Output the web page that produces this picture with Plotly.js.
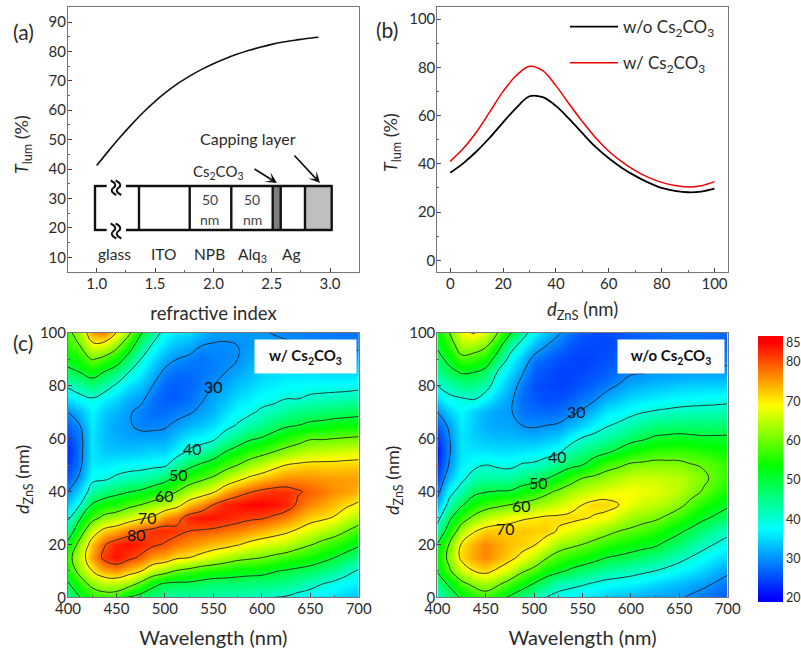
<!DOCTYPE html>
<html>
<head>
<meta charset="utf-8">
<script src="https://cdn.plot.ly/plotly-3.0.1.min.js"></script>
<style>html,body{margin:0;padding:0;background:#fff}</style>
</head>
<body>
<div id="chart" style="width:801px;height:649px"></div>
<script>
// ---------- panel (a)
const refractiveIndex = [1.0,1.1,1.2,1.3,1.4,1.5,1.6,1.7,1.8,1.9,2.0,2.1,2.2,2.3,2.4,2.5,2.6,2.7,2.8,2.9];
const tLumA = [41.2,46.1,50.8,55.2,59.3,63.0,66.3,69.2,71.7,73.9,75.8,77.5,79,80.3,81.4,82.4,83.2,83.8,84.4,84.8];
// ---------- panel (b)
const dZnSb = [0,5,10,15,20,25,30,35,40,45,50,55,60,65,70,75,80,85,90,95,100];
const tLumWithout = [36.3,40.3,45.2,50.9,57.2,63.2,68,67.6,64,58.6,52.7,47,42.3,38.3,35,32.2,30,28.8,28.2,28.5,29.7];
const tLumWith = [41,46.4,53.3,61.6,70,76.6,80.4,78.6,72.4,64.8,57.5,50.8,45.2,40.8,37.2,34.4,32.3,31,30.4,30.9,32.6];
// ---------- contour maps: one array per wavelength, values for d = 0,5,...,100 nm
const wavelengths = [400,412.5,425,437.5,450,462.5,475,487.5,500,512.5,525,537.5,550,562.5,575,587.5,600,612.5,625,637.5,650,662.5,675,687.5,700];
const dZnS = [0,5,10,15,20,25,30,35,40,45,50,55,60,65,70,75,80,85,90,95,100];

const w400 = [44,49,55,57,52,45,39,34,30,26.5,24,23,24.5,27,30,35.5,41,48,53,56,58];
const w412 = [50,56.5,62.5,66,63,56,49.5,40,35,31,29,28.5,28.5,30,33,38,43.5,50,55,60,64];
const w425 = [55,62,70,75,73,66.5,57.5,50.5,43,38.5,36.5,36,36,36.5,37,39.5,46,53,60.5,68,75];
const w437 = [56.5,65,74.5,81.5,79.5,72,62,54,45.5,39,36,34,33,33,34,37,43,49.5,58,67,77];
const w450 = [56,65,76,84,83,74,64,55,48,41,37,33.5,32,31.5,32.5,35,39,46,54,62,70];
const w462 = [49.5,63,73,81.5,84,77.5,66.5,58,49.5,42.5,37.5,33.5,31.5,30.5,30.5,32,35.5,40,47,54,62];
const w475 = [47,58,70.5,79,83,80,69,60,51,43,38,34,31.5,29,29,31,33.5,36.5,40,45,51];
const w487 = [45,52,65.5,75,81,82,71,62.5,53.5,45,38.5,34.5,31.5,29,27.5,28,30,32.5,35.5,39,43.5];
const w500 = [43,49,63,74,79.5,82.5,76,65,56,47.5,39,34.5,31.5,29.5,27.5,26.5,27,29,32,35,38];
const w512 = [43,48.5,59.5,71,77.5,81.5,78,68,60,52,44,37.5,34,31,28.5,26.5,26.5,27.5,30,33,36];
const w525 = [43,48.5,58,70,76,80,82.5,73,64,56,48,41,36.5,32.5,29.5,27.5,27,27.5,29,32,35];
const w537 = [43,47.5,56,68,74.5,79.5,84,76,66.5,58.5,51,43,37.5,33.5,31,29.5,28.5,28,28,30,33];
const w550 = [43,46.5,55,66,73,79,84,80,69,61,53.5,45.5,39,35,32.5,31.5,30,29,28.8,29.7,31];
const w562 = [42.5,46.5,54,64,72,78,83,83,74,65,57,50,43,38,35,33,31.5,30,29.3,29.5,31];
const w575 = [42,46.5,53,62,70.5,77,82,84,77.5,68,60,53,46,40.5,37.5,35.5,33.5,31.5,30,30,31];
const w587 = [41.5,46,52.5,61,68.5,75.5,81,85,79.5,71,63,56,49,43,39,36.5,34.5,33,31.5,30.5,30.5];
const w600 = [41,46,52,60,67,74,80.5,85,81,73,65,58,50.5,45,41,38,36,34.5,33,31.5,30.5];
const w612 = [40,45.5,50.5,58.5,66,72.5,79,84,82,74.5,68,60,53,47,42.5,38.5,36.5,35,33.5,31.5,29.7];
const w625 = [39.5,45,49.5,57,65,71,77,83,82,76,70,62,55.5,49,44,40,37.5,35.5,33.5,31,29];
const w637 = [38,43.5,48.5,55.5,62.5,69,74.5,79,80.5,76,71,63.5,57.5,50,45,40,37.5,35.5,33.5,30.5,28.8];
const w650 = [37,42,47.5,54,60.5,67,72,76.5,79,76,71.5,65,59.5,51.5,46,41,38,35.5,33,30,28.5];
const w662 = [36,40,46,52,58,65,71,75,77.5,75.5,71.5,65.5,59.5,52,46.5,41.5,38,35,32.5,29.7,28.3];
const w675 = [35.5,38.5,44.5,50,56,63,69.5,73,76,75,71.5,66,60,53,47,42,38,35,32.5,29.5,28];
const w687 = [34,37.5,41.5,47.5,53.5,60,66,71,75,75.2,71.8,66.5,60.5,53.5,47.5,42.5,38,35,32,29.3,27.8];
const w700 = [33,36.5,39.5,45,51,57,63.5,69,73.5,75,72,67,61,54,48,43,38.5,35,32,29,27.5];
const columnsWith = [w400,w412,w425,w437,w450,w462,w475,w487,w500,w512,w525,w537,w550,w562,w575,w587,w600,w612,w625,w637,w650,w662,w675,w687,w700];

const o400 = [41,46,50.5,53.5,50.5,43,37.5,32.5,28,25,23,22,23.5,26.5,30,35,40,44,47.5,51,53];
const o412 = [46,51,59,62,60.5,54,48.5,42,38,33.5,30.5,29.5,29.8,31,34.5,38.7,42.5,48,52,56,60];
const o425 = [51,58,66,71.5,70.5,64,56.5,49,42.5,38.5,36.5,36,36,36.5,37.5,39.5,45,50.5,58,64,68];
const o437 = [54.5,61.5,70,74.5,74,69.5,61.5,54,48,42.5,38.5,36,34.5,34,34.5,40.5,45,50,57,63.5,70.5];
const o450 = [57,63.5,71.5,76.5,76.5,72,65,57,49.5,44,40,36,33.5,32,32.5,37,42.5,47.5,54.5,61,67];
const o462 = [53,61,69,74,74.5,72.5,67,58.5,50.3,43.8,39,35.5,33,31.5,31,33.5,36.5,39.3,46.5,53,60];
const o475 = [49,57,66,71.5,73,72,68.5,60,50.5,44,38.5,35.5,33,31.5,30.5,31,32.5,35,38,43,51];
const o487 = [45,53.5,61,68.5,72,72.5,69.5,61.5,53,46,40.5,36,32.8,30,28,27.5,28.5,30.5,33.5,37.5,43];
const o500 = [42,49.5,58,65,70.5,72,70,63,55,47,41,36.5,32.5,29.5,27.5,26,25.5,26.5,28.5,33,37];
const o512 = [40,46,53.5,60.5,67,72,71,64,58.5,49.5,43,37.5,33.5,30,27,25.5,25,25.5,27,30,33.5];
const o525 = [38.5,42,51.5,57.5,63,69.5,71,66,61,53,45,39,34.5,30.5,27.5,25.5,24.5,24.5,25.5,28,30.5];
const o537 = [37,41.5,49,55.5,61.5,67.5,71.3,68,63.5,57,48,43,37.5,32.5,29,26.5,25,24.5,24.8,26,28];
const o550 = [36,40.5,47,54,60,66,70.5,70,65,60,50,45,40.5,34.5,30.5,28,26,25,24.5,25,26];
const o562 = [35,39.2,45.5,52,58,64,69.5,71.5,66.5,61.5,54,47,42,37,33,29.5,27,25.5,25,25,25.5];
const o575 = [34,38,44,50,56,62,68.5,71.5,67.5,63,57.5,49,43.5,39.5,36,32,28.5,26.5,25.5,25,25];
const o587 = [33,37.5,43,49,54.5,60,65.5,70,68.5,64.5,59,51.5,45.5,41,37,33.5,30.3,28,26.8,26,25.7];
const o600 = [32.5,37,42,48,53,59,63,67.5,69,66,61,54,48,43,38.5,35,32,29.5,28,27,26.5];
const o612 = [31.5,36,41,46.7,52,57.5,62,66,68,66,61.5,55,49.3,44.5,39.8,35.8,32.5,29.8,28.2,27.2,26.7];
const o625 = [31,35,40,45.5,51,56,61,65,67.5,66,62,56.5,51,46,40.5,36.5,33,30.5,28.5,27.5,27];
const o637 = [30.7,34,38.7,43.5,48.5,53.5,59,63.5,66,65.5,61.8,56.7,51.5,46.3,41,37,33.5,30.7,28.8,27.8,27.2];
const o650 = [30.5,33,37.5,41.5,46.5,51,56.5,61.5,64.5,65,61.5,57,52,46.5,41.5,37.5,34,31,29,28,27.5];
const o662 = [29.3,32,36,39.7,44,48.5,53.7,58.3,62,63,60.3,56.3,51.5,46.5,41.8,37.8,34.3,31,29,28,27.5];
const o675 = [28,31,34.5,38,41.5,46,51,55,59.5,61,59.5,55.5,51,46.5,42,38,34.5,31,29,28,27.5];
const o687 = [27,29.5,32.7,36.2,39.7,43.7,49,53,56.7,58.7,58,54.7,51,46.7,42.2,38.2,34.5,31,29,27.7,27.2];
const o700 = [26,28,31,34.5,38,41.5,47,51,54.5,56.5,56.5,54,51,47,42.5,38.5,34.5,31,29,27.5,27];
const columnsWithout = [o400,o412,o425,o437,o450,o462,o475,o487,o500,o512,o525,o537,o550,o562,o575,o587,o600,o612,o625,o637,o650,o662,o675,o687,o700];

const colorbarTicks = [20,30,40,50,60,70,80,85];
const contourLabelsWith = ['30','40','50','60','70','80'];
const contourLabelsWithout = ['30','40','50','60','70'];

// ---------- helpers (page pixels -> paper fractions)
const W = 801, H = 649;
const px = x => x / W, py = y => 1 - y / H;
const rows = cols => dZnS.map((_, r) => cols.map(c => c[r]));
const FONT = 'Lato, "Open Sans", sans-serif';
const TXT = '#2b2b2b';
const frame = '#777';

function axis(extra) {
  return Object.assign({
    showgrid:false, zeroline:false, showline:true, mirror:true, linecolor:frame, linewidth:1,
    ticks:'inside', ticklen:4, tickcolor:'#444', tickwidth:1, ticklabelstandoff:-2,
    tickfont:{family:FONT,size:15,color:TXT}, automargin:false
  }, extra);
}
function xTitle(t, standoff, size=18.5){ return {text:t, standoff, font:{family:FONT,size,color:TXT}}; }
const minor = (d) => ({dtick:d, ticks:'inside', ticklen:2, tickcolor:'#666', showgrid:false});

const ZMIN = 19, ZMAX = 86.6;
const f = z => (z - ZMIN) / (ZMAX - ZMIN);
const rainbow = [[0,'#0000ff'],[f(20),'#0000ff'],[f(37.5),'#00ffff'],[f(53.5),'#00ff00'],[f(69),'#ffff00'],[f(85),'#ff0000'],[1,'#ff0000']];

const traces = [
  {type:'scatter',mode:'lines',x:refractiveIndex,y:tLumA,xaxis:'x',yaxis:'y',line:{color:'#111',width:1.6,shape:'spline'},showlegend:false},
  {type:'scatter',mode:'lines',x:dZnSb,y:tLumWithout,xaxis:'x2',yaxis:'y2',name:'w/o Cs<sub>2</sub>CO<sub>3</sub>',legendgroup:'g1',line:{color:'#000',width:1.8,shape:'spline'}},
  {type:'scatter',mode:'lines',x:dZnSb,y:tLumWith,xaxis:'x2',yaxis:'y2',name:'w/ Cs<sub>2</sub>CO<sub>3</sub>',legendgroup:'g2',line:{color:'#f00000',width:1.5,shape:'spline'}},
  {type:'heatmap',x:wavelengths,y:dZnS,z:rows(columnsWith),xaxis:'x3',yaxis:'y3',coloraxis:'coloraxis',zsmooth:'best',hoverinfo:'skip',showlegend:false},
  {type:'contour',x:wavelengths,y:dZnS,z:rows(columnsWith),xaxis:'x3',yaxis:'y3',showscale:false,showlegend:false,autocontour:false,
   contours:{coloring:'none',start:30,end:80,size:10},line:{color:'#222',width:0.9,smoothing:1.3},hoverinfo:'skip'},
  {type:'heatmap',x:wavelengths,y:dZnS,z:rows(columnsWithout),xaxis:'x4',yaxis:'y4',coloraxis:'coloraxis',zsmooth:'best',hoverinfo:'skip',showlegend:false},
  {type:'contour',x:wavelengths,y:dZnS,z:rows(columnsWithout),xaxis:'x4',yaxis:'y4',showscale:false,showlegend:false,autocontour:false,
   contours:{coloring:'none',start:30,end:80,size:10},line:{color:'#222',width:0.9,smoothing:1.3},hoverinfo:'skip'}
];

// ---------- device sketch in panel (a)
const sTop = 186, sBot = 230;
const line = (x0,y0,x1,y1,w=2.4) => ({type:'line',xref:'paper',yref:'paper',x0:px(x0),y0:py(y0),x1:px(x1),y1:py(y1),line:{color:'#111',width:w},layer:'above'});
const rect = (x0,x1,c) => ({type:'rect',xref:'paper',yref:'paper',x0:px(x0),x1:px(x1),y0:py(sTop),y1:py(sBot),fillcolor:c,line:{width:0},layer:'above'});
const wiggle = (x,y0,y1) => {
  const m=(y0+y1)/2, a=2.8;
  const P=(a,b)=>px(a)+','+py(b);
  return {type:'path',xref:'paper',yref:'paper',layer:'above',line:{color:'#111',width:2},
    path:`M ${P(x-a,y0)} C ${P(x+a,y0+3)} ${P(x+a,m-2)} ${P(x,m)} C ${P(x-a,m+2)} ${P(x-a,y1-3)} ${P(x+a,y1)}`};
};
const shapes = [
  rect(272.7,280.7,'#7f7f7f'), rect(305,331.7,'#bfbfbf'),
  line(95,sTop,106.7,sTop), line(126,sTop,331.7,sTop),
  line(95,sBot,106.7,sBot), line(126,sBot,331.7,sBot),
  line(95,sTop-1,95,sBot+1),
  line(139,sTop,139,sBot), line(189.7,sTop,189.7,sBot), line(231.3,sTop,231.3,sBot),
  line(272.7,sTop,272.7,sBot), line(280.7,sTop,280.7,sBot), line(305,sTop,305,sBot), line(331.7,sTop-1,331.7,sBot+1),
  wiggle(113.5,180.5,195), wiggle(118.5,180.5,195), wiggle(113.5,223.5,238.5), wiggle(118.5,223.5,238.5)
];

// ---------- free text
const note = (t,x,y,size=16,extra={}) => Object.assign({text:t,xref:'paper',yref:'paper',x:px(x),y:py(y),xanchor:'center',yanchor:'middle',showarrow:false,font:{family:FONT,size,color:TXT}},extra);
const arrow = (x0,y0,x1,y1) => ({text:'',xref:'paper',yref:'paper',x:px(x1),y:py(y1),ax:x0-x1,ay:y0-y1,axref:'pixel',ayref:'pixel',showarrow:true,arrowhead:3,arrowsize:1.1,arrowwidth:1.7,arrowcolor:'#111'});
const posWith = [[213,386],[192,448],[178,474],[164,495],[147,517],[136,534]];
const posWithout = [[576,411],[557,456],[538,482],[521,505],[505,528]];
const tLumTitle = '<i>T</i><sub>lum</sub> (%)';
const dTitle = '<i>d</i><sub>ZnS</sub> (nm)';
const annotations = [
  note('(a)',23,31,21), note('(b)',387,30,21), note('(c)',23,342,21),
  note(tLumTitle,22,145,18,{textangle:-90}), note(tLumTitle,392,143,18,{textangle:-90}),
  note(dTitle,23,480,18,{textangle:-90}), note(dTitle,393,481,18,{textangle:-90}),
  note('glass',115,254,15.5), note('ITO',163,254,15.5), note('NPB',210,254,15.5),
  note('Alq<sub>3</sub>',252,255,15.5), note('Ag',291,254,15.5),
  note('50',210,200,14,{font:{family:FONT,size:14,color:'#444'}}), note('nm',210,219.5,14,{font:{family:FONT,size:14,color:'#444'}}),
  note('50',252,200,14,{font:{family:FONT,size:14,color:'#444'}}), note('nm',252,219.5,14,{font:{family:FONT,size:14,color:'#444'}}),
  note('Capping layer',248,138,16), note('Cs<sub>2</sub>CO<sub>3</sub>',218,172,15),
  arrow(253,168,277,183), arrow(293,154,320,183),
  note('w/ Cs<sub>2</sub>CO<sub>3</sub>',305.5,356.5,15,{bgcolor:'#fff',width:99,height:31,valign:'middle',font:{family:FONT,size:15,color:'#111',weight:700}}),
  note('w/o Cs<sub>2</sub>CO<sub>3</sub>',671,356.5,15,{bgcolor:'#fff',width:104,height:31,valign:'middle',font:{family:FONT,size:15,color:'#111',weight:700}}),
  ...contourLabelsWith.map((t,i)=>note(t,posWith[i][0],posWith[i][1],16,{font:{family:FONT,size:16,color:'#111'}})),
  ...contourLabelsWithout.map((t,i)=>note(t,posWithout[i][0],posWithout[i][1],16,{font:{family:FONT,size:16,color:'#111'}}))
];

const topDomain = [py(272), py(7)], botDomain = [py(597.3), py(332.7)];
const layout = {
  width:W, height:H, margin:{l:0,r:0,t:0,b:0}, paper_bgcolor:'#fff', plot_bgcolor:'#fff',
  font:{family:FONT,color:TXT},
  xaxis: axis({domain:[px(68),px(359)],anchor:'y',range:[0.754,3.248],tickvals:[1,1.5,2,2.5,3],tickformat:'.1f',minor:minor(0.25),title:xTitle('refractive index',16)}),
  yaxis: axis({domain:topDomain,anchor:'x',range:[5,95.1],dtick:10,minor:minor(5)}),
  xaxis2:axis({domain:[px(437.3),px(727.7)],anchor:'y2',range:[-4.9,105],dtick:20,minor:minor(10),title:xTitle('<i>d</i><sub>ZnS</sub> (nm)',12)}),
  yaxis2:axis({domain:topDomain,anchor:'x2',range:[-4.85,105],dtick:20,minor:minor(10)}),
  xaxis3:axis({domain:[px(68),px(358.7)],anchor:'y3',range:[400,700],dtick:50,tick0:400,minor:minor(25),title:xTitle('Wavelength (nm)',14,20)}),
  yaxis3:axis({domain:botDomain,anchor:'x3',range:[0,100],dtick:20,minor:minor(10)}),
  xaxis4:axis({domain:[px(437.3),px(727.7)],anchor:'y4',range:[400,700],dtick:50,tick0:400,minor:minor(25),title:xTitle('Wavelength (nm)',14,20)}),
  yaxis4:axis({domain:botDomain,anchor:'x4',range:[0,100],dtick:20,minor:minor(10)}),
  coloraxis:{cmin:ZMIN,cmax:ZMAX,colorscale:rainbow,colorbar:{
    thicknessmode:'pixels',thickness:25,lenmode:'pixels',len:265.7,
    x:px(758.3),xanchor:'left',y:py(336),yanchor:'top',xpad:0,ypad:0,outlinewidth:0,borderwidth:0,
    tickvals:colorbarTicks,ticktext:colorbarTicks.map(String),ticks:'',tickfont:{family:FONT,size:12.5,color:TXT}
  }},
  showlegend:true,
  legend:{x:px(565),y:py(9),xanchor:'left',yanchor:'top',bgcolor:'rgba(0,0,0,0)',borderwidth:0,
    itemwidth:48,traceorder:'grouped',tracegroupgap:11,font:{family:FONT,size:17,color:TXT}},
  shapes, annotations
};
Plotly.newPlot('chart',traces,layout,{displayModeBar:false,responsive:false});
</script>
</body>
</html>
